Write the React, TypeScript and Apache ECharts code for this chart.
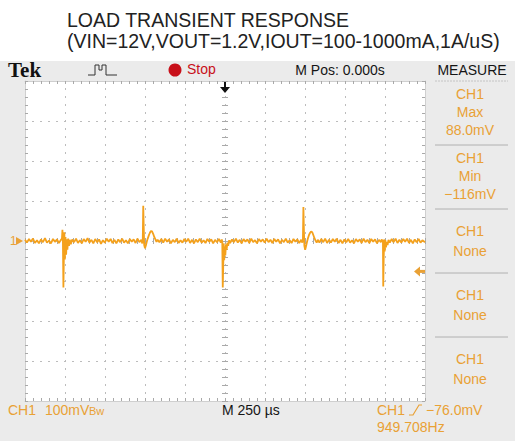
import React, { useEffect, useRef } from 'react';
import * as echarts from 'echarts';

// ---------- texts ----------
const titleLine1 = 'LOAD TRANSIENT RESPONSE';
const titleLine2 = '(VIN=12V,VOUT=1.2V,IOUT=100-1000mA,1A/uS)';
const headerTexts = { brand: 'Tek', state: 'Stop', mpos: 'M Pos: 0.000s', menu: 'MEASURE' };
const measureBoxes: string[][] = [
  ['CH1', 'Max', '88.0mV'],
  ['CH1', 'Min', '\u2212116mV'],
  ['CH1', 'None'],
  ['CH1', 'None'],
  ['CH1', 'None'],
];
const footerTexts = { ch: 'CH1', scale: '100mV', bw: 'Bw', time: 'M 250 \u00b5s', trigCh: 'CH1', trigLevel: '\u221276.0mV', freq: '949.708Hz' };

// ---------- axes ----------
const timeMin = -1250; // µs
const timeMax = 1250;
const timeDiv = 250; // 250 µs/div
const voltMin = -400; // mV
const voltMax = 400;
const voltDiv = 100; // 100 mV/div
const triggerLevelMv = -76;

// ---------- trace: [time µs, mV] ----------
const baselineA: number[][] = [
  [-1250, 3], [-1238, -4], [-1225, 5], [-1213, -2], [-1200, 6], [-1188, -5], [-1175, 2], [-1163, -6],
  [-1150, 4], [-1138, -3], [-1125, 7], [-1113, -4], [-1100, 1], [-1088, -6], [-1075, 5], [-1063, -2],
  [-1050, 4], [-1038, -5], [-1025, 3],
];
const stepUp1: number[][] = [
  [-1019, 6], [-1016, 28], [-1013, -4], [-1010, -116], [-1007, -38], [-1004, 22], [-1001, -46], [-997, 10],
  [-993, -34], [-989, 4], [-985, -22], [-980, 6], [-975, -12], [-970, 3], [-964, -8],
];
const baselineB: number[][] = [
  [-955, 4], [-943, -3], [-931, 6], [-919, -5], [-907, 2], [-895, -6], [-883, 5], [-871, -2], [-859, 7],
  [-847, -4], [-835, 3], [-823, -6], [-811, 5], [-799, -3], [-787, 4], [-775, -7], [-763, 2], [-751, -4],
  [-739, 6], [-727, -2], [-715, 5], [-703, -5], [-691, 3], [-679, -6], [-667, 4], [-655, -3], [-643, 6],
  [-631, -4], [-619, 2], [-607, -6], [-595, 5], [-583, -2], [-571, 4], [-559, -5], [-547, 6], [-535, -3],
  [-523, 3],
];
const stepDown1: number[][] = [
  [-517, -6], [-514, 2], [-511, 88], [-508, 35], [-505, -10], [-500, -18], [-495, -12], [-489, -2],
  [-483, 6], [-476, 14], [-470, 20], [-463, 25], [-456, 24], [-449, 18], [-442, 10], [-435, 4], [-428, -2],
  [-421, 3],
];
const baselineC: number[][] = [
  [-410, -3], [-398, 5], [-386, -4], [-374, 6], [-362, -2], [-350, 4], [-338, -6], [-326, 3], [-314, -3],
  [-302, 6], [-290, -5], [-278, 2], [-266, -4], [-254, 5], [-242, -2], [-230, 6], [-218, -5], [-206, 3],
  [-194, -6], [-182, 4], [-170, -3], [-158, 6], [-146, -4], [-134, 2], [-122, -5], [-110, 5], [-98, -2],
  [-86, 4], [-74, -6], [-62, 3], [-50, -3], [-38, 5], [-26, -4],
];
const stepUp2: number[][] = [
  [-20, 4], [-17, -2], [-14, -116], [-11, -60], [-8, -6], [-5, -48], [-2, -14], [2, -36], [6, -8],
  [10, -22], [15, -4], [20, -12], [26, 2],
];
const baselineD: number[][] = [
  [32, -5], [44, 4], [56, -3], [68, 6], [80, -4], [92, 3], [104, -6], [116, 5], [128, -2], [140, 4],
  [152, -5], [164, 6], [176, -3], [188, 2], [200, -6], [212, 5], [224, -2], [236, 4], [248, -4], [260, 6],
  [272, -3], [284, 3], [296, -5], [308, 5], [320, -2], [332, 4], [344, -6], [356, 3], [368, -3], [380, 6],
  [392, -4], [404, 2], [416, -5], [428, 5], [440, -2], [452, 4], [464, -5], [476, 3],
];
const stepDown2: number[][] = [
  [483, -4], [487, 3], [490, 85], [493, 30], [496, -12], [501, -22], [506, -14], [512, -3], [518, 6],
  [524, 14], [531, 20], [538, 24], [545, 22], [552, 15], [559, 7], [566, 1], [573, -4], [580, 3],
];
const baselineE: number[][] = [
  [590, -4], [602, 5], [614, -3], [626, 6], [638, -5], [650, 3], [662, -4], [674, 5], [686, -2], [698, 6],
  [710, -5], [722, 3], [734, -6], [746, 4], [758, -3], [770, 5], [782, -4], [794, 2], [806, -6], [818, 5],
  [830, -2], [842, 4], [854, -5], [866, 6], [878, -3], [890, 3], [902, -5], [914, 5], [926, -2], [938, 4],
  [950, -6], [962, 3], [974, -3],
];
const stepUp3: number[][] = [
  [980, 4], [984, -2], [987, 3], [989, -114], [992, -40], [995, 4], [998, -26], [1002, 2], [1006, -16],
  [1011, -2], [1016, -10], [1022, 3],
];
const baselineF: number[][] = [
  [1030, -4], [1042, 5], [1054, -3], [1066, 6], [1078, -5], [1090, 3], [1102, -4], [1114, 5], [1126, -2],
  [1138, 6], [1150, -5], [1162, 3], [1174, -6], [1186, 4], [1198, -3], [1210, 5], [1222, -4], [1234, 2],
  [1250, -3],
];

const trace = [
  ...baselineA, ...stepUp1, ...baselineB, ...stepDown1, ...baselineC, ...stepUp2,
  ...baselineD, ...stepDown2, ...baselineE, ...stepUp3, ...baselineF,
];

// ---------- layout / style ----------
const W = 515;
const H = 441;
const gridLeft = 25;
const gridTop = 81;
const gridW = 400;
const gridH = 320;
const greyTop = 61;
const orange = '#e9a135';
const traceColor = '#f4a11c';
const dark = '#151515';
const red = '#c8101a';
const sf = "'Liberation Sans', Arial, sans-serif";

const yPix = (mv: number) => gridTop + ((voltMax - mv) / (voltMax - voltMin)) * gridH;
const xPix = (t: number) => gridLeft + ((t - timeMin) / (timeMax - timeMin)) * gridW;

function txt(text: string, x: number, y: number, o: any = {}) {
  return {
    type: 'text', x, y, silent: true, z: 100,
    style: {
      text, fill: o.fill || orange, fontFamily: o.font || sf, fontSize: o.size || 14,
      fontWeight: o.weight || 'normal', align: o.align || 'left', verticalAlign: 'middle',
    },
  };
}

function buildGraphic() {
  const g: any[] = [];
  g.push(txt(titleLine1, 67, 20, { fill: '#222', size: 19.5 }));
  g.push(txt(titleLine2, 67, 40.5, { fill: '#222', size: 19.5 }));
  g.push(txt(headerTexts.brand, 8, 70, { fill: '#111', size: 21, weight: 'bold', font: "'Liberation Serif', 'DejaVu Serif', serif" }));
  g.push({
    type: 'polyline', silent: true, z: 100,
    shape: { points: [[88, 75], [95, 75], [95, 65], [99, 65], [99, 70], [102, 70], [102, 65], [106, 65], [106, 75], [117, 75]] },
    style: { stroke: '#333', lineWidth: 1, fill: null },
  });
  g.push({ type: 'circle', silent: true, z: 100, shape: { cx: 175, cy: 70, r: 6.5 }, style: { fill: red } });
  g.push(txt(headerTexts.state, 187, 69, { fill: red }));
  g.push(txt(headerTexts.mpos, 340, 70, { fill: dark, align: 'center' }));
  g.push(txt(headerTexts.menu, 472, 70, { fill: dark, align: 'center' }));

  // measure panel
  const boxH = 64;
  for (let i = 0; i < measureBoxes.length; i++) {
    const top = gridTop + i * boxH;
    g.push({
      type: 'line', silent: true, z: 100,
      shape: { x1: 435, y1: top, x2: 508, y2: top },
      style: { stroke: i === 0 ? '#c4c4c4' : '#b0b0b0', lineWidth: 1, lineDash: i === 0 ? [2, 1] : null },
    });
    const lines = measureBoxes[i];
    const offs = lines.length === 3 ? [13, 31, 49] : [22, 42];
    lines.forEach((s, k) => g.push(txt(s, 470, top + offs[k], { align: 'center' })));
  }

  // footer
  g.push(txt(footerTexts.ch, 8, 410));
  g.push(txt(footerTexts.scale, 45, 410));
  g.push(txt(footerTexts.bw, 89, 411, { size: 11 }));
  g.push(txt(footerTexts.time, 222, 410, { fill: dark }));
  g.push(txt(footerTexts.trigCh, 377, 410));
  g.push({
    type: 'polyline', silent: true, z: 100,
    shape: { points: [[409, 415], [413, 415], [419, 405], [422, 405]] },
    style: { stroke: orange, lineWidth: 1.2, fill: null },
  });
  g.push(txt(footerTexts.trigLevel, 426, 410));
  g.push(txt(footerTexts.freq, 377, 427));

  // channel ground marker
  const y0 = yPix(0);
  g.push(txt('1', 10, y0, { size: 12 }));
  g.push({ type: 'polygon', silent: true, z: 100, shape: { points: [[16, y0 - 4], [16, y0 + 4], [23, y0]] }, style: { fill: orange } });

  // trigger position marker (top)
  const xt = xPix(0);
  g.push({ type: 'line', silent: true, z: 100, shape: { x1: xt, y1: 82, x2: xt, y2: 88 }, style: { stroke: '#111', lineWidth: 2 } });
  g.push({ type: 'polygon', silent: true, z: 100, shape: { points: [[xt - 5, 87], [xt + 5, 87], [xt, 93]] }, style: { fill: '#111' } });

  // trigger level marker (right)
  const yl = yPix(triggerLevelMv);
  g.push({ type: 'polygon', silent: true, z: 100, shape: { points: [[414, yl], [420, yl - 5], [420, yl + 5]] }, style: { fill: orange } });
  g.push({ type: 'rect', silent: true, z: 100, shape: { x: 420, y: yl - 1.5, width: 5, height: 3 }, style: { fill: orange } });
  return g;
}

const tickColor = '#a9a9a9';
const dotStyle = { color: '#bcbcbc', width: 1, type: [2, 6] as any, dashOffset: 1 };

function xAxisDef(position: string, offset: number, inside: boolean, line: boolean, split: boolean) {
  return {
    type: 'value', min: timeMin, max: timeMax, interval: timeDiv, position, offset,
    axisLine: { show: line, onZero: false, lineStyle: { color: '#cfcfcf' } },
    axisTick: { show: true, inside, length: 3, lineStyle: { color: tickColor } },
    minorTick: { show: true, splitNumber: 5, length: 3, lineStyle: { color: tickColor } },
    axisLabel: { show: false },
    splitLine: { show: split, lineStyle: dotStyle },
    minorSplitLine: { show: false },
  };
}
function yAxisDef(position: string, offset: number, inside: boolean, line: boolean, split: boolean) {
  return {
    type: 'value', min: voltMin, max: voltMax, interval: voltDiv, position, offset,
    axisLine: { show: line, onZero: false, lineStyle: { color: '#cfcfcf' } },
    axisTick: { show: true, inside, length: 3, lineStyle: { color: tickColor } },
    minorTick: { show: true, splitNumber: 5, length: 3, lineStyle: { color: tickColor } },
    axisLabel: { show: false },
    splitLine: { show: split, lineStyle: dotStyle },
    minorSplitLine: { show: false },
  };
}

export default function App() {
  const ref = useRef<HTMLDivElement>(null);
  useEffect(() => {
    if (!ref.current) return;
    const chart = echarts.init(ref.current, undefined, { renderer: 'svg' });
    chart.setOption({
      animation: false,
      grid: {
        left: gridLeft, top: gridTop, width: gridW, height: gridH,
        show: true, backgroundColor: '#ffffff', borderWidth: 0,
      },
      xAxis: [
        xAxisDef('bottom', 0, true, true, true),
        xAxisDef('top', 0, true, true, false),
        xAxisDef('bottom', -gridH / 2, true, false, false),
        xAxisDef('bottom', -gridH / 2, false, false, false),
      ],
      yAxis: [
        yAxisDef('left', 0, true, true, true),
        yAxisDef('right', 0, true, true, false),
        yAxisDef('left', -gridW / 2, true, false, false),
        yAxisDef('left', -gridW / 2, false, false, false),
      ],
      series: [
        {
          type: 'line', xAxisIndex: 0, yAxisIndex: 0, data: trace,
          showSymbol: false, symbol: 'none', z: 10,
          lineStyle: { color: traceColor, width: 1.8 },
        },
      ],
      graphic: buildGraphic(),
    });
    return () => chart.dispose();
  }, []);
  return (
    <div
      style={{
        position: 'fixed', left: 0, top: 0, width: W, height: H,
        background: `linear-gradient(#ffffff 0px, #ffffff ${greyTop}px, #ebebeb ${greyTop}px, #ebebeb 100%)`,
      }}
    >
      <div ref={ref} style={{ width: W, height: H }} />
    </div>
  );
}
